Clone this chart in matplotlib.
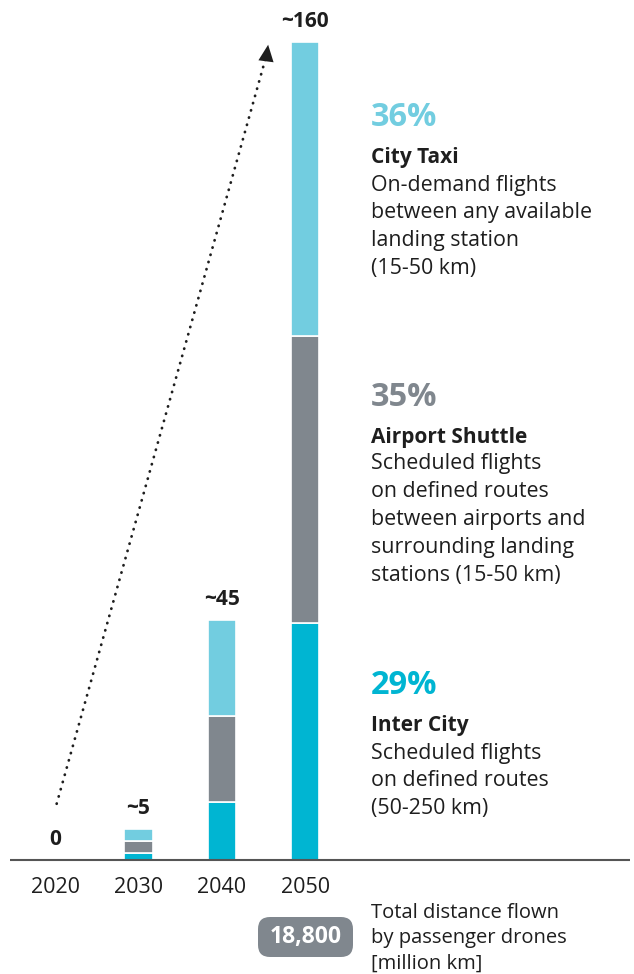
import matplotlib.pyplot as plt
from matplotlib.patches import FancyBboxPatch

plt.rcParams['font.family'] = ['Open Sans', 'DejaVu Sans']

years = ['2020', '2030', '2040', '2050']
inter_city = [0, 1.4, 11.3, 46.4]
airport_shuttle = [0, 2.3, 16.8, 56.0]
city_taxi = [0, 2.3, 18.8, 57.6]
totals = ['0', '~5', '~45', '~160']

segments = ['City Taxi', 'Airport Shuttle', 'Inter City']
shares = ['36%', '35%', '29%']
descriptions = [
    ['On-demand flights', 'between any available', 'landing station', '(15-50 km)'],
    ['Scheduled flights', 'on defined routes', 'between airports and',
     'surrounding landing', 'stations (15-50 km)'],
    ['Scheduled flights', 'on defined routes', '(50-250 km)'],
]
total_2050 = '18,800'
footnote = ['Total distance flown', 'by passenger drones', '[million km]']

c_taxi = '#72cde0'
c_shuttle = '#80878e'
c_inter = '#00b5d2'
dark = '#1e1e1e'

W, H = 634, 974
fig = plt.figure(figsize=(W / 100, H / 100), dpi=100)

# bar axes: y=0 at pixel 860, y=160 at pixel 42
ax = fig.add_axes([0, (H - 860) / H, 1, (860 - 42) / H])
step = 83.4
ax.set_xlim(-55 / step, (W - 55) / step)
ax.set_ylim(0, 160)
ax.axis('off')

x = range(len(years))
bw = 0.34
ax.bar(x, inter_city, bw, color=c_inter, edgecolor='white', linewidth=1.2)
ax.bar(x, airport_shuttle, bw, bottom=inter_city, color=c_shuttle,
       edgecolor='white', linewidth=1.2)
bottom2 = [a + b for a, b in zip(inter_city, airport_shuttle)]
ax.bar(x, city_taxi, bw, bottom=bottom2, color=c_taxi,
       edgecolor='white', linewidth=1.2)
tops = [a + b for a, b in zip(bottom2, city_taxi)]

ax.plot([10 / step - 55 / step, 630 / step - 55 / step], [0, 0],
        color='#555555', lw=1.5, clip_on=False, solid_capstyle='butt')

for i, t in enumerate(totals):
    ax.text(i, tops[i] + 2.0, t, ha='center', va='bottom',
            fontsize=15, fontweight='bold', color=dark)
    ax.text(i, -3.3, years[i], ha='center', va='top', fontsize=15.5, color=dark)

# dotted trend arrow
x0, y0 = 0.02, 11
x1, y1 = 2.56, 160
ax.plot([x0, x1 - 0.035], [y0, y1 - 3.2], color=dark, lw=2,
        linestyle=(0, (0.1, 2.6)), dash_capstyle='round', clip_on=False)
ax.annotate('', xy=(x1, y1), xytext=(x1 - 0.02, y1 - 2.5),
            arrowprops=dict(arrowstyle='-|>,head_length=1.2,head_width=0.55',
                            color=dark, lw=0), annotation_clip=False)

# right-hand text in pixel coordinates
def ftext(px, py, s, **kw):
    fig.text(px / W, 1 - py / H, s, va='center', ha='left', **kw)

share_cols = [c_taxi, c_shuttle, c_inter]
share_y = [118, 397, 686]
for k in range(3):
    y = share_y[k]
    ftext(371, y, shares[k], fontsize=23.5, fontweight='bold', color=share_cols[k])
    ftext(371, y + 40, segments[k], fontsize=15, fontweight='bold', color=dark)
    for j, line in enumerate(descriptions[k]):
        ftext(371, y + 67 + 27.8 * j, line, fontsize=15.4, color=dark)

# total pill
pill = FancyBboxPatch((258 / W, 1 - 957 / H), 95 / W, 40 / H,
                      boxstyle='round,pad=0,rounding_size=0.019',
                      transform=fig.transFigure, facecolor='#80878e',
                      edgecolor='none', mutation_aspect=W / H)
fig.patches.append(pill)
fig.text(305.5 / W, 1 - 937 / H, total_2050, ha='center', va='center',
         fontsize=16.5, fontweight='bold', color='white')

for j, line in enumerate(footnote):
    ftext(371, 913 + 25.5 * j, line, fontsize=14.5, color=dark)

fig.savefig('out.png', dpi=100)
